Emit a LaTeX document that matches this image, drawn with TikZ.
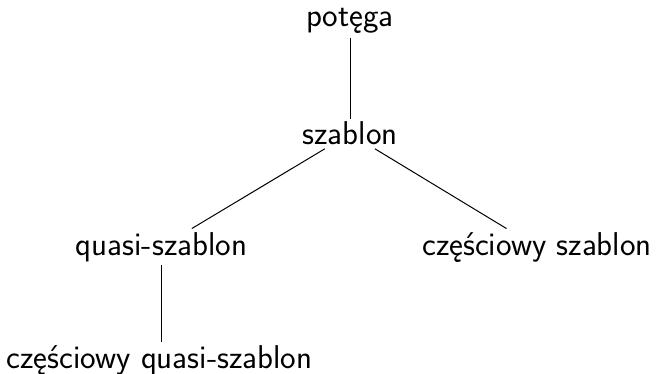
\documentclass[tikz,border=0pt]{standalone}
\usepackage{fontspec}
\begin{document}
\begin{tikzpicture}[x=1pt,y=-1pt,
  lbl/.style={font=\sffamily\fontsize{33}{40}\selectfont, inner sep=0.3333em, anchor=base},
  edge/.style={line width=1pt}]
\useasboundingbox (0,0) rectangle (656,374);
\node[lbl] (p) at (350,27) {potęga};
\node[lbl] (s) at (350,145) {szablon};
\node[lbl] (q) at (161.5,255) {quasi-szablon};
\node[lbl] (c) at (537,255) {częściowy szablon};
\node[lbl] (cq) at (159.5,368) {częściowy quasi-szablon};
\draw[edge] (p) -- (s);
\draw[edge] (s) -- (q);
\draw[edge] (s) -- (c);
\draw[edge] (q) -- (q |- cq.north);
\end{tikzpicture}
\end{document}
